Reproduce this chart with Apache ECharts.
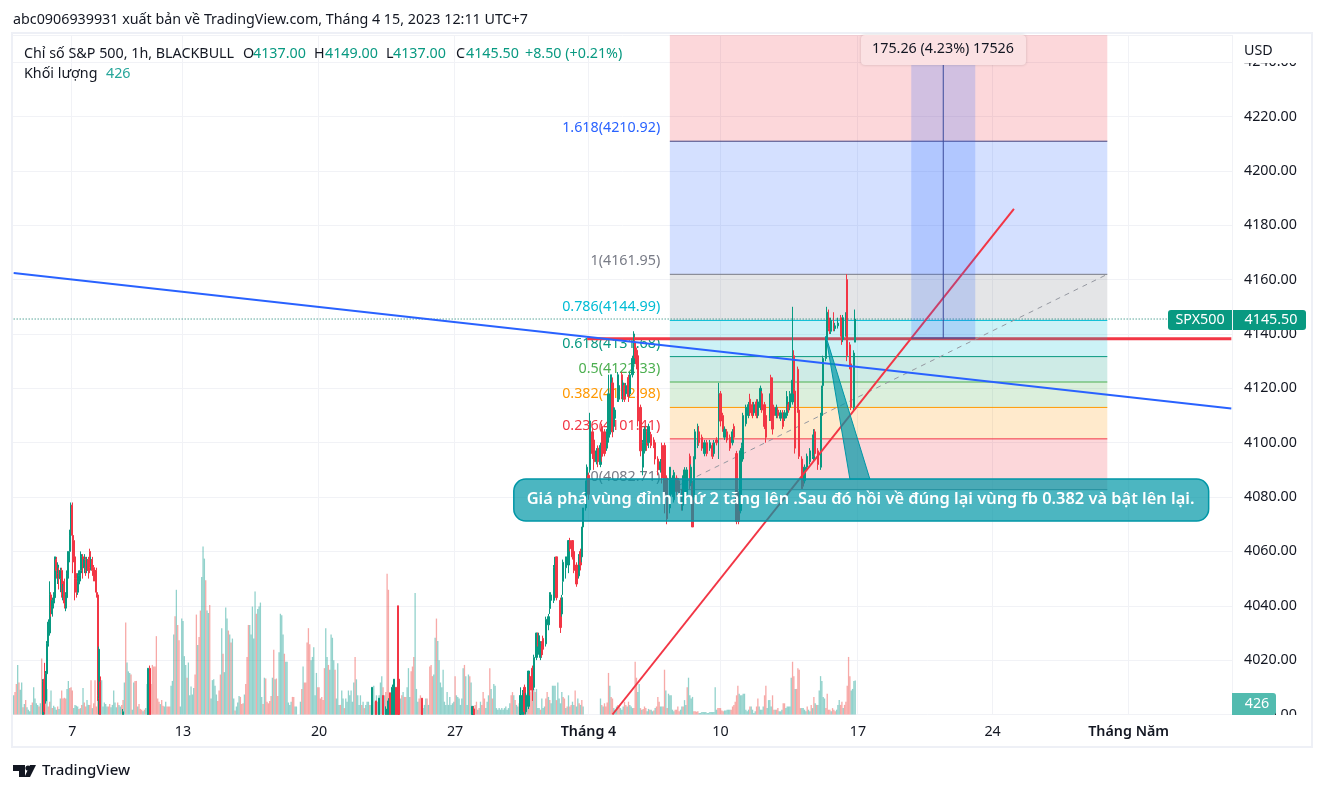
<!DOCTYPE html>
<html><head><meta charset="utf-8">
<style>html,body{margin:0;padding:0;background:#fff}#c{width:1325px;height:793px}</style>
<script src="https://cdn.jsdelivr.net/npm/echarts@6/dist/echarts.min.js"></script>
</head><body><div id="c"></div>
<script>
const FONT='"Noto Sans"';
const TXT='14.3px '+FONT;
const BAR_COUNT=914, AXIS_MIN=4000;
const tickBars={44:'7',127:'13',229:'20',331:'27',431:'Tháng 4',530:'10',633:'17',734:'24',836:'Tháng Năm'};
const fibLevels=[
 {label:'1.618(4210.92)',price:4210.92,color:'#2962FF',line:'#45457f'},
 {label:'1(4161.95)',price:4161.95,color:'#787B86',line:'#787B86'},
 {label:'0.786(4144.99)',price:4144.99,color:'#00BCD4',line:'#00BCD4'},
 {label:'0.618(4131.68)',price:4131.68,color:'#089981',line:'#089981'},
 {label:'0.5(4122.33)',price:4122.33,color:'#4CAF50',line:'#4CAF50'},
 {label:'0.382(4112.98)',price:4112.98,color:'#FF9800',line:'#FF9800'},
 {label:'0.236(4101.41)',price:4101.41,color:'#F23645',line:'#F23645'},
 {label:'0(4082.71)',price:4082.71,color:'#787B86',line:'#787B86'}
];
const fibBands=[
 [4250,4210.92,'rgba(242,54,69,.2)'],[4210.92,4161.95,'rgba(41,98,255,.2)'],[4161.95,4144.99,'rgba(120,123,134,.2)'],
 [4144.99,4131.68,'rgba(0,188,212,.2)'],[4131.68,4122.33,'rgba(8,153,129,.2)'],[4122.33,4112.98,'rgba(76,175,80,.2)'],
 [4112.98,4101.41,'rgba(255,152,0,.2)'],[4101.41,4082.71,'rgba(242,54,69,.2)']
];
const fibStart=492, fibEnd=820, fibLabelBar=484;
const blueTrend=[[0,4162.4],[913,4112.6]];
const redTrend=[[449,4000],[750,4186]];
const redLevel=[[430,4138.2],[913,4138.2]];
const fibDiag=[[492,4082.71],[820,4161.95]];
const lastPrice=4145.5;
const measure={x1:673,x2:721,xm:697,low:4138.5,high:4250};
const calloutText='Giá phá vùng đỉnh thứ 2 tăng lên .Sau đó hồi về đúng lại vùng fb 0.382 và bật lên lại.';
const callout={x1:375,x2:896,top:4086.6,bottom:4071.2,textBar:635,textPrice:4079,tail:[[609,4139.2],[642,4086.6],[627,4086.6]]};

const candlesA=[[22,3992,4012,3990,4013],[23,4013,4001,3998,4019],[24,4005,4015,4004,4016],[25,4015,4026,4014,4027],[26,4026,4034,4025,4035],[27,4030,4044,4029,4049],[28,4044,4038,4036,4045],[29,4037,4042,4036,4043],[30,4041,4044,4039,4045],[31,4043,4058,4042,4058],[32,4057,4053,4050,4058],[33,4052,4055,4048,4056],[34,4053,4050,4046,4054],[35,4050,4053,4045,4054],[36,4053,4044,4043,4054],[37,4045,4047,4042,4048],[38,4049,4041,4039,4050],[39,4041,4044,4038,4045],[40,4043,4052,4039,4053],[41,4051,4060,4050,4060],[42,4060,4066,4056,4068],[43,4066,4077,4064,4078],[44,4077,4066,4052,4078],[45,4064,4058,4056,4066],[46,4058,4050,4042,4059],[47,4050,4045,4043,4052],[48,4045,4049,4044,4052],[49,4048,4051,4046,4053],[50,4051,4053,4049,4060],[51,4053,4058,4052,4059],[52,4058,4054,4050,4059],[53,4054,4057,4052,4059],[54,4057,4053,4051,4058],[55,4053,4057,4052,4058],[56,4057,4053,4050,4058],[57,4060,4054,4052,4061],[58,4054,4057,4053,4058],[59,4057,4053,4051,4058],[60,4054,4051,4049,4055],[61,4053,4051,4049,4054],[62,4053,4045,4043,4054],[63,4044,4007,4005,4045],[64,4006,4024,3996,4025],[65,4012,3998,3992,4014]];
const candlesB=[[82,3996,4001,3994,4002],[101,3996,4017,3992,4017],[102,4017,3998,3994,4018],[269,3998,4010,3995,4010],[272,4005,3996,3994,4005],[274,3997,4006,3995,4006],[277,4007,3998,3996,4007],[279,3997,4002,3995,4003],[281,3996,4005,3995,4006],[282,4008,3996,3994,4008],[284,3996,4010,3995,4011],[285,3996,4013,3995,4013],[287,4010,3998,3995,4010],[288,4040,3998,3990,4040],[289,4013,3997,3995,4014],[306,4006,3995,3992,4006],[344,3995,4003,3994,4003],[345,4002,3997,3995,4003]];
const candlesC=[[380,3998,4007,3997,4010],[382,4000,4008,3998,4009],[383,4010,4001,3999,4011],[384,4001,4007,4000,4008],[386,4003,4016,4002,4016],[387,4014,4009,4007,4015],[389,4017,4009,4005,4018],[390,4010,4021,4009,4022],[392,4021,4030,4020,4030],[393,4030,4026,4025,4030],[394,4023,4029,4022,4030],[395,4021,4026,4020,4027],[396,4026,4022,4021,4027],[397,4028,4024,4022,4029],[399,4026,4035,4025,4036],[401,4033,4036,4031,4037],[402,4039,4044,4037,4045],[403,4042,4044,4040,4045],[405,4042,4054,4041,4055],[406,4047,4055,4046,4058],[407,4058,4043,4042,4058],[410,4042,4032,4030,4043],[411,4037,4043,4036,4044],[412,4049,4056,4044,4057],[414,4054,4058,4050,4058],[416,4055,4064,4052,4064],[417,4064,4061,4060,4065],[419,4064,4058,4057,4064],[420,4060,4053,4052,4061],[422,4055,4048,4047,4056],[424,4051,4058,4050,4059],[425,4060,4055,4053,4061],[426,4058,4069,4056,4069],[427,4069,4076,4068,4076],[429,4076,4086,4075,4086],[430,4086,4091,4085,4092],[431,4088,4081,4079,4089]];
const candlesD=[[432,4090,4108,4089,4111],[434,4104,4096,4094,4105],[435,4101,4093,4090,4102],[437,4093,4097,4092,4098],[438,4098,4093,4091,4099],[440,4092,4099,4091,4100],[441,4106,4095,4093,4107],[443,4104,4096,4095,4105],[445,4098,4104,4097,4105],[446,4102,4118,4100,4125],[448,4104,4125,4103,4125],[449,4122,4104,4102,4124],[450,4106,4112,4104,4113],[451,4109,4112,4108,4113],[453,4116,4125,4115,4126],[454,4116,4121,4115,4122],[456,4125,4117,4116,4126],[457,4116,4122,4115,4123],[458,4121,4116,4115,4122],[459,4118,4121,4117,4122],[461,4124,4117,4115,4125],[462,4118,4125,4117,4126],[464,4125,4131,4124,4132],[465,4129,4140,4128,4141],[466,4137,4132,4131,4139],[467,4134,4129,4127,4135],[468,4132,4108,4106,4133],[470,4113,4097,4095,4114],[472,4091,4100,4088,4101],[473,4097,4105,4096,4106],[475,4104,4099,4097,4105],[476,4100,4106,4098,4107],[478,4103,4099,4098,4104],[480,4101,4099,4098,4102],[481,4100,4094,4092,4101],[483,4094,4090,4088,4095],[485,4090,4093,4089,4094],[486,4099,4087,4085,4100],[488,4099,4081,4074,4100],[490,4087,4072,4070,4088],[492,4076,4091,4074,4091],[494,4081,4087,4080,4088],[495,4079,4089,4078,4090],[497,4087,4082,4080,4088],[499,4086,4081,4079,4087]];
const candlesE=[[501,4082,4078,4075,4083],[502,4077,4087,4075,4088],[503,4081,4090,4080,4091],[505,4081,4090,4079,4091],[507,4095,4085,4083,4096],[508,4085,4091,4084,4092],[509,4085,4069,4069,4086],[510,4080,4094,4079,4095],[511,4094,4104,4093,4105],[513,4099,4106,4098,4107],[514,4104,4100,4099,4106],[516,4102,4098,4097,4103],[518,4096,4100,4095,4101],[520,4100,4096,4095,4101],[522,4098,4100,4097,4101],[524,4099,4095,4094,4100],[525,4096,4100,4095,4101],[527,4101,4100,4099,4102],[529,4108,4118,4094,4122],[530,4118,4108,4106,4119],[532,4110,4105,4104,4111],[533,4102,4105,4101,4106],[535,4104,4101,4100,4105],[537,4102,4098,4097,4103],[539,4100,4104,4099,4105],[540,4106,4102,4101,4107],[542,4096,4071,4070,4097],[544,4081,4071,4070,4082],[545,4075,4097,4074,4098],[546,4096,4099,4095,4100],[547,4094,4110,4093,4111],[549,4107,4113,4106,4114],[551,4110,4114,4109,4115],[552,4116,4111,4110,4118],[554,4114,4110,4109,4115],[555,4111,4114,4110,4115],[557,4115,4110,4109,4116],[558,4110,4115,4109,4116],[560,4113,4120,4112,4121],[561,4118,4112,4111,4119],[563,4114,4106,4105,4115],[564,4110,4102,4100,4111],[567,4109,4118,4108,4118],[568,4124,4112,4108,4125]];
const candlesF=[[569,4113,4105,4103,4124],[570,4113,4110,4109,4114],[572,4110,4113,4109,4114],[573,4112,4110,4109,4113],[575,4109,4111,4108,4112],[577,4111,4106,4105,4112],[578,4109,4111,4108,4112],[580,4110,4117,4109,4119],[581,4114,4112,4111,4115],[582,4113,4118,4112,4119],[584,4115,4123,4114,4150],[585,4132,4120,4118,4134],[586,4119,4098,4096,4120],[588,4127,4112,4111,4128],[589,4112,4095,4094,4113],[591,4094,4087,4083,4095],[592,4089,4084,4083,4090],[593,4086,4091,4085,4092],[595,4091,4095,4090,4096],[597,4093,4097,4092,4098],[599,4095,4102,4094,4103],[600,4094,4104,4093,4105],[601,4104,4096,4095,4105],[603,4097,4092,4090,4098],[605,4091,4110,4090,4111],[606,4110,4120,4109,4121],[607,4121,4131,4120,4132],[609,4131,4138,4130,4139],[610,4138,4148,4137,4150],[611,4145,4142,4141,4149],[612,4145,4141,4140,4146],[613,4141,4145,4140,4146],[615,4144,4142,4141,4148],[616,4142,4143,4141,4144],[618,4143,4144,4142,4146],[620,4146,4140,4139,4147],[621,4141,4138,4136,4142],[622,4138,4146,4137,4147],[624,4140,4147,4139,4148],[625,4160,4132,4130,4162],[627,4136,4129,4127,4137],[628,4129,4113,4112,4130],[630,4113,4133,4112,4134],[631,4137,4145.5,4137,4149]];

// signed volume: positive = up bar, negative = down bar
const volA=[240,-280,-380,620,-400,310,400,-90,130,-180,90,60,40,120,-150,340,200,140,120,-100,140,-700,-400,-180,-230,320,-100,-160,300,-80,110,90,60,-100,70,200,-300,-200,-210,-200,320,420,-330,-340,-300,80,120,110,100,-70,80,-120,330,-150,-100,180,120,-120,-430,80,-140,-430,-100,-830,-700,120,430,100,150,130,100,-100,-130,90,120,300,150,90,-150,120,100,-120,-180,400,-1150,650,540,520,-500,60,400,-420,-420,100,-130,-70,-60,40,-60,80,380,-120,-430,-380,-620,-600,-600,-980,-200,-160,130,-180,-110,100,160,-100,-100,-100,360,420,1000,-1230,1560,-1120,-930,100,1200,1170,730,620,-460,650,240,350,250,330,-500,-1250,870,-970,-1300,1720,2100,1950,-1680,1300,1270,-1370,200,430,440,360,250,-170,-300,-500,1080,-760,530,1340,1200,-1050,1000,-900,950,200,-50,100,150,230,-220,-130,-140,250,-380,-720,-1120,1120,1000,1350,950,1540,-1260,1320,1350,1400,220,-130,460,-450,-160,-140,-170,-230,460,-810,440,-450,-230,780,1260,1240,1000,-760,660,660,150,120,160,-220,-220,100,100];
const volB=[160,-320,600,-400,-400,-900,-1080,-880,680,720,840,240,520,-340,-340,-200,-220,-180,-580,1080,720,-620,560,1000,960,680,-560,200,640,120,-120,300,200,-80,200,160,300,240,300,160,400,-720,440,240,120,240,-120,160,-80,120,160,160,-120,120,120,360,-160,240,160,240,400,480,-340,240,-280,-1760,-1560,120,120,-160,200,160,-80,160,240,200,-240,280,-220,-220,340,580,220,-540,-600,-720,1520,320,160,-200,-240,120,80,120,200,-200,120,-600,-620,-480,500,960,-1200,920,680,400,340,560,160,120,280,120,220,120,140,160,-480,240,220,200,120,200,580,-620,480,120,500,-480,400,100,80,-120,-160,60,-80,160,-120,-280,-200,80,160,240,-580,320,-200,380,360,80,60,80,60,80,60,80,100,60,80,140,-240,-280,240,-180,120,100,-140,-160,-60,-80,100,-120,260,-240,-280,-400,-380,320,-280,320,80,80,-60,200,80,100,-200,-280,220,-180,140,360,360,360,-180,400,200,140,280,-220,-200,80,-100,240,-100,-120,160,120,-300,100,200,-140,120,-180,100];
const volC=[200,-120,100,-140,-100,-150,-520,360,-220,-200,80,60,100,-120,-100,80,60,100,-160,-120,100,-160,120,100,80,-80,-660,-460,280,380,-80,60,-70,-100,-80,40,70,-60,60,40,-50,80,-100,-220,-160,100,100,-100,-560,300,-80,260,240,240,60,40,-60,-60,-100,-40,60,100,-100,180,120,-340,460,240,200,220,-40,-40,-35,-40,20,20,30,30,30,30,20,20,30,30,30,30,340,60,-80,-80,-80,-50,-40,50,50,60,60,60,-60,-100,-120,-160,-240,-360,260,240,240,260,260,60,40,60,-100,100,60,20,40,-100,-200,100,60,60,100,-240,-360,80,180,180,100,-240,-60,60,-60,-80,40,40,60,-140,-140,80,100,100,100,460,-660,-480,320,-320,-580,-560,-80,80,80,60,40,-100,60,40,-120,80,-220,140,-120,120,300,480,420,220,200,-80,-260,-60,-60,40,-80,-60,-40,60,120,180,-120,-160,80,-120,-160,-360,-720,-480,300,320,420,426];
const volStarts={volA:0,volB:215,volC:440};

const up='#089981',down='#F23645';
const cats=Array.from({length:BAR_COUNT},(_,i)=>String(i));
const candleMap={};
[...candlesA,...candlesB,...candlesC,...candlesD,...candlesE,...candlesF].forEach(r=>candleMap[r[0]]=r.slice(1).map(v=>Math.max(v,AXIS_MIN)));
const candleData=cats.map((_,i)=>candleMap[i]||['-','-','-','-']);
const volData=cats.map(()=>'-');
[[volA,volStarts.volA],[volB,volStarts.volB],[volC,volStarts.volC]].forEach(([arr,s])=>arr.forEach((v,k)=>{
  if(s+k<BAR_COUNT) volData[s+k]={value:Math.abs(v),itemStyle:{color:v>=0?'rgba(38,166,154,.5)':'rgba(239,83,80,.5)'}};
}));

function overlay(name,z,items,draw){
  return {type:'custom',name,z,xAxisIndex:0,yAxisIndex:0,silent:true,clip:false,animation:false,
    data:items.map((_,i)=>[i,4100]),
    renderItem:(p,api)=>draw(items[p.dataIndex],api)};
}
const seg=(a,b,api,style)=>{const p=api.coord(a),q=api.coord(b);
  return {type:'line',shape:{x1:p[0],y1:p[1],x2:q[0],y2:q[1]},style:Object.assign({fill:null},style)};};
const box=(x1,x2,p1,p2,api,style,r)=>{const a=api.coord([x1,p1]),b=api.coord([x2,p2]);
  return {type:'rect',shape:{x:a[0],y:a[1],width:b[0]-a[0],height:b[1]-a[1],r:r||0},style};};

const option={
  animation:false,backgroundColor:'#fff',
  grid:{left:13,right:93,top:35,bottom:78.5,containLabel:false},
  xAxis:{type:'category',data:cats,boundaryGap:true,
    axisLine:{show:false},axisTick:{show:false},
    axisLabel:{interval:i=>tickBars[i]!==undefined,hideOverlap:false,margin:10,
      formatter:v=>{const t=tickBars[v]||'';return /Th/.test(t)?'{b|'+t+'}':t;},
      color:'#131722',fontFamily:FONT,fontSize:14.3,
      rich:{b:{fontFamily:FONT,fontSize:14.3,fontWeight:600,color:'#131722'}}},
    splitLine:{show:true,interval:i=>tickBars[i]!==undefined,lineStyle:{color:'#F1F2F6',width:1}}},
  yAxis:[
    {type:'value',position:'right',min:4000,max:4250,interval:20,
      axisLine:{show:false},axisTick:{show:false},
      axisLabel:{margin:12,color:'#131722',fontFamily:FONT,fontSize:14.3,showMaxLabel:false,formatter:v=>v.toFixed(2)},
      splitLine:{show:true,lineStyle:{color:'#F1F2F6',width:1}}},
    {type:'value',min:0,max:8500,show:false,splitLine:{show:false}}
  ],
  series:[
    {type:'bar',name:'Khối lượng',xAxisIndex:0,yAxisIndex:1,data:volData,barWidth:1.3,z:1,silent:true,large:false},
    overlay('fibLabels',1.5,fibLevels,(f,api)=>{const p=api.coord([fibLabelBar,f.price]);
      return {type:'text',style:{text:f.label,x:p[0]+1,y:p[1]-13,fill:f.color,font:TXT,textAlign:'right',textVerticalAlign:'middle'}};}),
    overlay('redLevel',2,[redLevel],(l,api)=>seg(l[0],l[1],api,{stroke:'#F23645',lineWidth:3})),
    overlay('bands',3,fibBands,(b,api)=>box(fibStart,fibEnd,b[0],b[1],api,{fill:b[2]})),
    overlay('fibLines',3.1,fibLevels,(f,api)=>seg([fibStart,f.price],[fibEnd,f.price],api,{stroke:f.line,lineWidth:1})),
    overlay('fibDiag',3.2,[fibDiag],(l,api)=>seg(l[0],l[1],api,{stroke:'#9598A1',lineWidth:1,lineDash:[5,5]})),
    {type:'candlestick',name:'SPX500',xAxisIndex:0,yAxisIndex:0,data:candleData,barWidth:1.6,z:4,silent:true,large:false,clip:true,
      itemStyle:{color:up,color0:down,borderColor:up,borderColor0:down,borderColorDoji:up,borderWidth:1}},
    overlay('lastPrice',4.5,[lastPrice],(v,api)=>seg([0,v],[BAR_COUNT-1,v],api,{stroke:'#067a67',lineWidth:1,lineDash:[1,2]})),
    overlay('blueTrend',5,[blueTrend],(l,api)=>seg(l[0],l[1],api,{stroke:'#2962FF',lineWidth:2})),
    overlay('redTrend',5.1,[redTrend],(l,api)=>seg(l[0],l[1],api,{stroke:'#F23645',lineWidth:2})),
    overlay('measure',5.2,[measure],(m,api)=>({type:'group',children:[
      box(m.x1,m.x2,m.high,m.low,api,{fill:'rgba(41,98,255,.2)'}),
      seg([m.xm,m.low],[m.xm,m.high],api,{stroke:'#3a4a9a',lineWidth:1}),
      seg([m.x1,m.low],[m.x2,m.low],api,{stroke:'#3a4a9a',lineWidth:1})
    ]})),
    overlay('callout',6,[callout],(c,api)=>{
      const pts=c.tail.map(t=>api.coord(t));const tp=api.coord([c.textBar,c.textPrice]);
      return {type:'group',children:[
        box(c.x1,c.x2,c.top,c.bottom,api,{fill:'rgba(0,151,167,.7)',stroke:'#0097A7',lineWidth:1.5},12),
        {type:'polygon',shape:{points:pts},style:{fill:'rgba(0,151,167,.7)',stroke:'#0097A7',lineWidth:1}},
        {type:'text',style:{text:calloutText,x:tp[0],y:tp[1],fill:'#fff',font:'600 16.4px '+FONT,textAlign:'center',textVerticalAlign:'middle'}}
      ]};
    })
  ],
  graphic:{elements:[
    {type:'rect',z:90,silent:true,shape:{x:12,y:33,width:1300,height:714},style:{fill:null,stroke:'#EEF0F6',lineWidth:2}},
    {type:'rect',z:91,silent:true,shape:{x:1233,y:36,width:78,height:27},style:{fill:'#fff'}},
    {type:'rect',z:91,silent:true,shape:{x:1233,y:715,width:78,height:31},style:{fill:'#fff'}},
    {type:'text',z:92,silent:true,style:{text:'USD',x:1244,y:51,fill:'#131722',font:TXT,textVerticalAlign:'middle'}},
    {type:'text',z:92,silent:true,style:{text:'abc0906939931 xuất bản về TradingView.com, Tháng 4 15, 2023 12:11 UTC+7',x:13,y:20,fill:'#131722',font:TXT,textVerticalAlign:'middle'}},
    {type:'text',z:92,silent:true,style:{text:'Chỉ số S&P 500, 1h, BLACKBULL',x:24,y:54,fill:'#131722',font:TXT,textVerticalAlign:'middle'}},
    ...[['O',243,'4137.00',253],['H',314,'4149.00',325],['L',386,'4137.00',393],['C',456,'4145.50',466]].flatMap(r=>[
      {type:'text',z:92,silent:true,style:{text:r[0],x:r[1],y:54,fill:'#131722',font:TXT,textVerticalAlign:'middle'}},
      {type:'text',z:92,silent:true,style:{text:r[2],x:r[3],y:54,fill:'#089981',font:TXT,textVerticalAlign:'middle'}}]),
    {type:'text',z:92,silent:true,style:{text:'+8.50 (+0.21%)',x:525,y:54,fill:'#089981',font:TXT,textVerticalAlign:'middle'}},
    {type:'text',z:92,silent:true,style:{text:'Khối lượng',x:24,y:74,fill:'#131722',font:TXT,textVerticalAlign:'middle'}},
    {type:'text',z:92,silent:true,style:{text:'426',x:106,y:74,fill:'#26A69A',font:TXT,textVerticalAlign:'middle'}},
    {type:'rect',z:93,silent:true,shape:{x:861,y:35,width:165,height:30,r:4},style:{fill:'#FBE1E3',shadowBlur:3,shadowColor:'rgba(0,0,0,.18)'}},
    {type:'text',z:94,silent:true,style:{text:'175.26 (4.23%) 17526',x:943,y:49,fill:'#131722',font:TXT,textAlign:'center',textVerticalAlign:'middle'}},
    {type:'rect',z:93,silent:true,shape:{x:1168,y:310,width:64,height:20,r:[3,0,0,3]},style:{fill:'#089981'}},
    {type:'text',z:94,silent:true,style:{text:'SPX500',x:1200,y:320,fill:'#fff',font:TXT,textAlign:'center',textVerticalAlign:'middle'}},
    {type:'rect',z:93,silent:true,shape:{x:1233,y:310,width:73,height:20,r:[0,3,3,0]},style:{fill:'#089981'}},
    {type:'text',z:94,silent:true,style:{text:'4145.50',x:1271,y:320,fill:'#fff',font:TXT,textAlign:'center',textVerticalAlign:'middle'}},
    {type:'rect',z:93,silent:true,shape:{x:1232,y:693,width:44,height:22,r:[0,3,3,0]},style:{fill:'#52BBAF'}},
    {type:'text',z:94,silent:true,style:{text:'426',x:1257,y:704,fill:'#fff',font:TXT,textAlign:'center',textVerticalAlign:'middle'}},
    {type:'polygon',z:92,silent:true,shape:{points:[[13,765],[25,765],[25,777],[19,777],[19,771],[13,771]]},style:{fill:'#131722'}},
    {type:'circle',z:92,silent:true,shape:{cx:28,cy:768,r:2.6},style:{fill:'#131722'}},
    {type:'polygon',z:92,silent:true,shape:{points:[[30,765],[36,765],[30,777],[24.5,777]]},style:{fill:'#131722'}},
    {type:'text',z:92,silent:true,style:{text:'TradingView',x:42,y:771,fill:'#131722',font:'500 15px '+FONT,textVerticalAlign:'middle'}}
  ]}
};
echarts.init(document.getElementById('c')).setOption(option);
</script></body></html>
